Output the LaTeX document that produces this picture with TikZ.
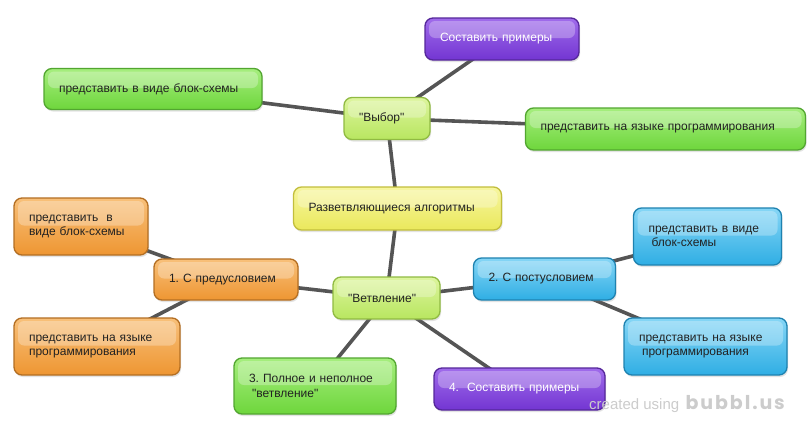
\documentclass[tikz,border=0pt]{standalone}
\usepackage{fontspec}
\setmainfont{Liberation Sans}[Ligatures=TeXOff]
\newfontfamily\wmfont{Poppins}
\usetikzlibrary{shadows,backgrounds}
\frenchspacing
\definecolor{lineC}{HTML}{555555}
\definecolor{txtC}{HTML}{222222}
\definecolor{yeT}{HTML}{F7F6A0}\definecolor{yeB}{HTML}{EAE85C}\definecolor{yeD}{HTML}{C2BE3C}
\definecolor{lgT}{HTML}{DDF59E}\definecolor{lgB}{HTML}{B8E660}\definecolor{lgD}{HTML}{90BA42}
\definecolor{grT}{HTML}{A6EE7E}\definecolor{grB}{HTML}{6ED63C}\definecolor{grD}{HTML}{52A630}
\definecolor{puT}{HTML}{A06CEB}\definecolor{puB}{HTML}{7335D2}\definecolor{puD}{HTML}{55279A}
\definecolor{orT}{HTML}{F8C07A}\definecolor{orB}{HTML}{EE9632}\definecolor{orD}{HTML}{B36E22}
\definecolor{blT}{HTML}{86D6F6}\definecolor{blB}{HTML}{2FAEE4}\definecolor{blD}{HTML}{1E82B0}
\definecolor{wmC}{HTML}{CCCCCC}
\tikzset{
  base/.style={rounded corners=8pt, line width=1.3pt, inner xsep=15pt, inner ysep=0pt,
    align=left, font=\fontsize{12}{14.5}\selectfont, text=txtC,
    drop shadow={shadow xshift=1pt, shadow yshift=-2pt, opacity=0.22},
    path picture={\fill[white, opacity=0.28, rounded corners=6pt]
      ([xshift=4pt,yshift=-3pt]path picture bounding box.north west) rectangle
      ([xshift=-4pt,yshift=1pt]path picture bounding box.east);}},
  ybox/.style={base, draw=yeD, top color=yeT, bottom color=yeB},
  lgbox/.style={base, draw=lgD, top color=lgT, bottom color=lgB},
  grbox/.style={base, draw=grD, top color=grT, bottom color=grB},
  pubox/.style={base, draw=puD, top color=puT, bottom color=puB, text=white},
  orbox/.style={base, draw=orD, top color=orT, bottom color=orB},
  blbox/.style={base, draw=blD, top color=blT, bottom color=blB},
  link/.style={draw=lineC, line width=3.6pt}
}
\begin{document}
\begin{tikzpicture}[x=1pt,y=-1pt]
\useasboundingbox (0,0) rectangle (812,426);
% nodes
\node[ybox, minimum width=208pt, minimum height=43pt, text width=178pt] (root) at (397.5,208.5) {Разветвляющиеся алгоритмы};
\node[lgbox, minimum width=86pt, minimum height=42pt, text width=56pt] (vybor) at (387,118.5) {"Выбор"};
\node[pubox, minimum width=154pt, minimum height=42pt, text width=124pt] (sost) at (502,39) {Составить примеры};
\node[grbox, minimum width=218pt, minimum height=41pt, text width=188pt] (tlg) at (153,89) {представить в виде блок-схемы};
\node[grbox, minimum width=280pt, minimum height=42pt, text width=250pt] (rg) at (665.5,129) {представить на языке программирования};
\node[lgbox, minimum width=107pt, minimum height=42pt, text width=77pt] (vetv) at (386.5,298) {"Ветвление"};
\node[orbox, minimum width=144pt, minimum height=41pt, text width=114pt] (pred) at (226,279.5) {1. С предусловием};
\node[orbox, minimum width=134pt, minimum height=57pt, text width=104pt] (otl) at (81,226.5) {представить\ \ в\\виде блок-схемы};
\node[orbox, minimum width=166pt, minimum height=57pt, text width=136pt] (obl) at (97,346.5) {представить на языке\\программирования};
\node[grbox, minimum width=162pt, minimum height=56pt, text width=132pt] (poln) at (315,386) {3. Полное и неполное\\\hspace*{3pt}"ветвление"};
\node[pubox, minimum width=171pt, minimum height=42pt, text width=141pt] (sost4) at (519.5,389) {4.\ \ Составить примеры};
\node[blbox, minimum width=142pt, minimum height=42pt, text width=112pt] (post) at (544.5,279) {2. С постусловием};
\node[blbox, minimum width=148pt, minimum height=57pt, text width=118pt] (btr) at (707.5,236.5) {представить в виде\\\hspace*{3pt}блок-схемы};
\node[blbox, minimum width=163pt, minimum height=57pt, text width=133pt] (bbr) at (705.5,346.5) {представить на языке\\\hspace*{3pt}программирования};
% watermark
\node[anchor=base west, inner sep=0pt, text=wmC, font=\fontsize{15}{16}\selectfont] (wm1) at (589,409) {created using};
\node[anchor=base west, inner sep=0pt, text=wmC, font=\wmfont\bfseries\fontsize{19}{20}\selectfont\addfontfeature{LetterSpace=10}] (wm2) at ([xshift=6pt]wm1.base east) {bubbl.us};
% links
\begin{scope}[on background layer]
\fill[white] (0,0) rectangle (812,426);
\draw[link] (root.center) -- (vybor.center);
\draw[link] (root.center) -- (vetv.center);
\draw[link] (vybor.center) -- (sost.center);
\draw[link] (vybor.center) -- (tlg.center);
\draw[link] (vybor.center) -- (rg.center);
\draw[link] (vetv.center) -- (pred.center);
\draw[link] (vetv.center) -- (post.center);
\draw[link] (vetv.center) -- (poln.center);
\draw[link] (vetv.center) -- (sost4.center);
\draw[link] (pred.center) -- (otl.center);
\draw[link] (pred.center) -- (obl.center);
\draw[link] (post.center) -- (btr.center);
\draw[link] (post.center) -- (bbr.center);
\end{scope}
\end{tikzpicture}
\end{document}
